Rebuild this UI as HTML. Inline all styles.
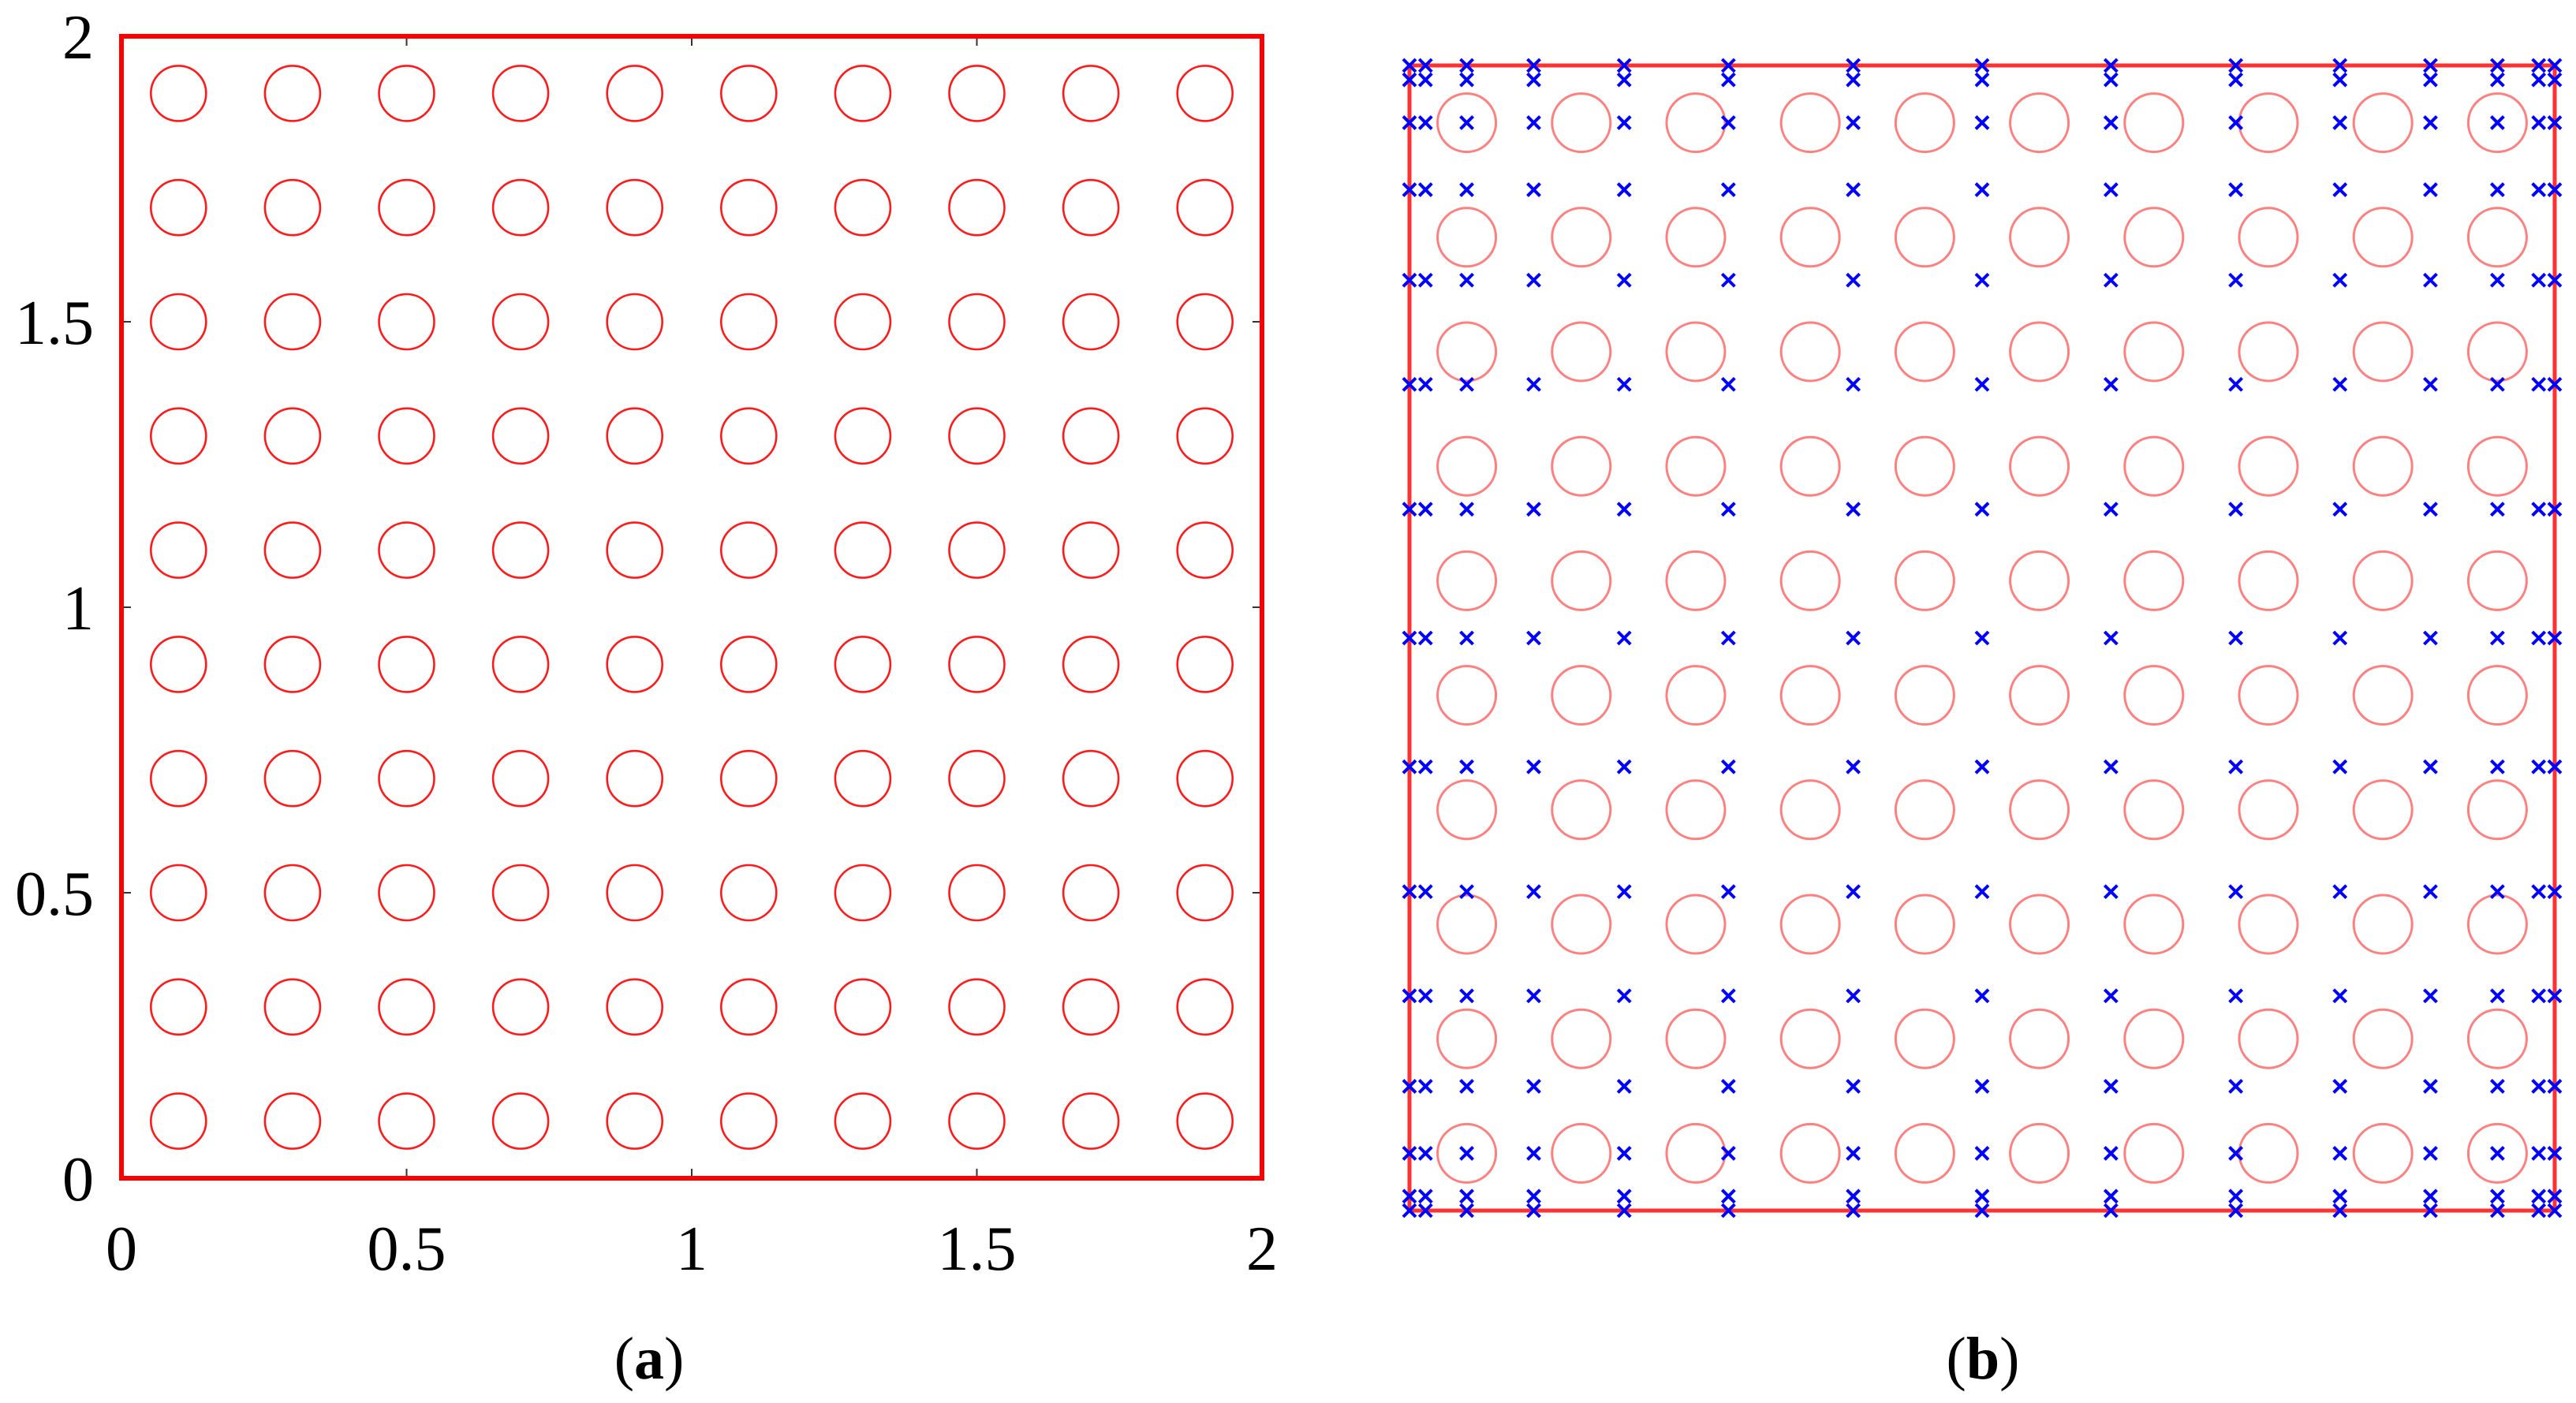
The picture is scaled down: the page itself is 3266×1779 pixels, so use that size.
<!DOCTYPE html>
<html><head><meta charset="utf-8"><style>
html,body{margin:0;padding:0;background:#fff;}
svg{display:block;}
text{font-family:"Liberation Serif",serif;}
</style></head><body>
<svg id="fig" width="3266" height="1779" viewBox="0 0 3266 1779" xmlns="http://www.w3.org/2000/svg">
  <g id="pa"></g>
  <g id="pb"></g>
  <text x="823" y="1748" font-size="76" text-anchor="middle">(<tspan font-weight="bold">a</tspan>)</text>
  <text x="2514" y="1748" font-size="76" text-anchor="middle">(<tspan font-weight="bold">b</tspan>)</text>
</svg>
<script>
const circleCentersX = [0.1,0.3,0.5,0.7,0.9,1.1,1.3,1.5,1.7,1.9];
const circleCentersY = [0.1,0.3,0.5,0.7,0.9,1.1,1.3,1.5,1.7,1.9];
const nodeX = [0,0.028,0.1,0.217,0.375,0.557,0.775,1,1.225,1.443,1.625,1.783,1.9,1.972,2];
const nodeY = [0,0.025,0.1,0.217,0.375,0.557,0.775,1,1.225,1.443,1.625,1.783,1.9,1.975,2];
const tickValues = [0,0.5,1,1.5,2];
const tickLabels = ["0","0.5","1","1.5","2"];
const NS = "http://www.w3.org/2000/svg";
function mk(parent, tag, attrs){const e=document.createElementNS(NS,tag);for(const k in attrs)e.setAttribute(k,attrs[k]);parent.appendChild(e);return e;}

// Panel A
const A={x0:154,x1:1600,y0:1494,y1:46};
const ax=v=>A.x0+(A.x1-A.x0)*v/2;
const ay=v=>A.y0+(A.y1-A.y0)*v/2;
const pa=document.getElementById('pa');
tickValues.forEach((v,i)=>{
  if(v>0&&v<2){
    [[ax(v),A.y0,ax(v),A.y0-12],[ax(v),A.y1,ax(v),A.y1+12],[A.x0,ay(v),A.x0+12,ay(v)],[A.x1,ay(v),A.x1-12,ay(v)]].forEach(c=>{
      const t=mk(pa,'line',{x1:c[0],y1:c[1],x2:c[2],y2:c[3],stroke:'#333','stroke-width':2});
      
      
    });
  }
  const xl=mk(pa,'text',{x:ax(v),y:1610,'font-size':80,'text-anchor':'middle'});
  xl.textContent=tickLabels[i];
  
  
  const yl=mk(pa,'text',{x:119,y:ay(v)+28,'font-size':80,'text-anchor':'end'});
  yl.textContent=tickLabels[i];
  
  
});
circleCentersY.forEach(cy=>circleCentersX.forEach(cx=>{
  const c=mk(pa,'circle',{cx:ax(cx),cy:ay(cy),r:35,fill:'none',stroke:'#ff1a1a','stroke-width':2.6});
  
  
}));
const fa=mk(pa,'rect',{x:A.x0,y:A.y1,width:A.x1-A.x0,height:A.y0-A.y1,fill:'none',stroke:'#ff0000','stroke-width':6});



// Panel B
const B={x0:1787,x1:3239,y0:1535,y1:83};
const bx=v=>B.x0+(B.x1-B.x0)*v/2;
const by=v=>B.y0+(B.y1-B.y0)*v/2;
const pb=document.getElementById('pb');
circleCentersY.forEach(cy=>circleCentersX.forEach(cx=>{
  const c=mk(pb,'circle',{cx:bx(cx),cy:by(cy),r:37,fill:'none',stroke:'#ff7f7f','stroke-width':3});
  
  
}));
const fb=mk(pb,'rect',{x:B.x0,y:B.y1,width:B.x1-B.x0,height:B.y0-B.y1,fill:'none',stroke:'#ff3030','stroke-width':5});


nodeY.forEach(ny=>nodeX.forEach(nx=>{
  const px=bx(nx),py=by(ny),s=8;
  const g=mk(pb,'path',{d:`M${px-s},${py-s}L${px+s},${py+s}M${px-s},${py+s}L${px+s},${py-s}`,stroke:'#0000ff','stroke-width':4,fill:'none'});
  
  
}));
</script>
</body></html>
